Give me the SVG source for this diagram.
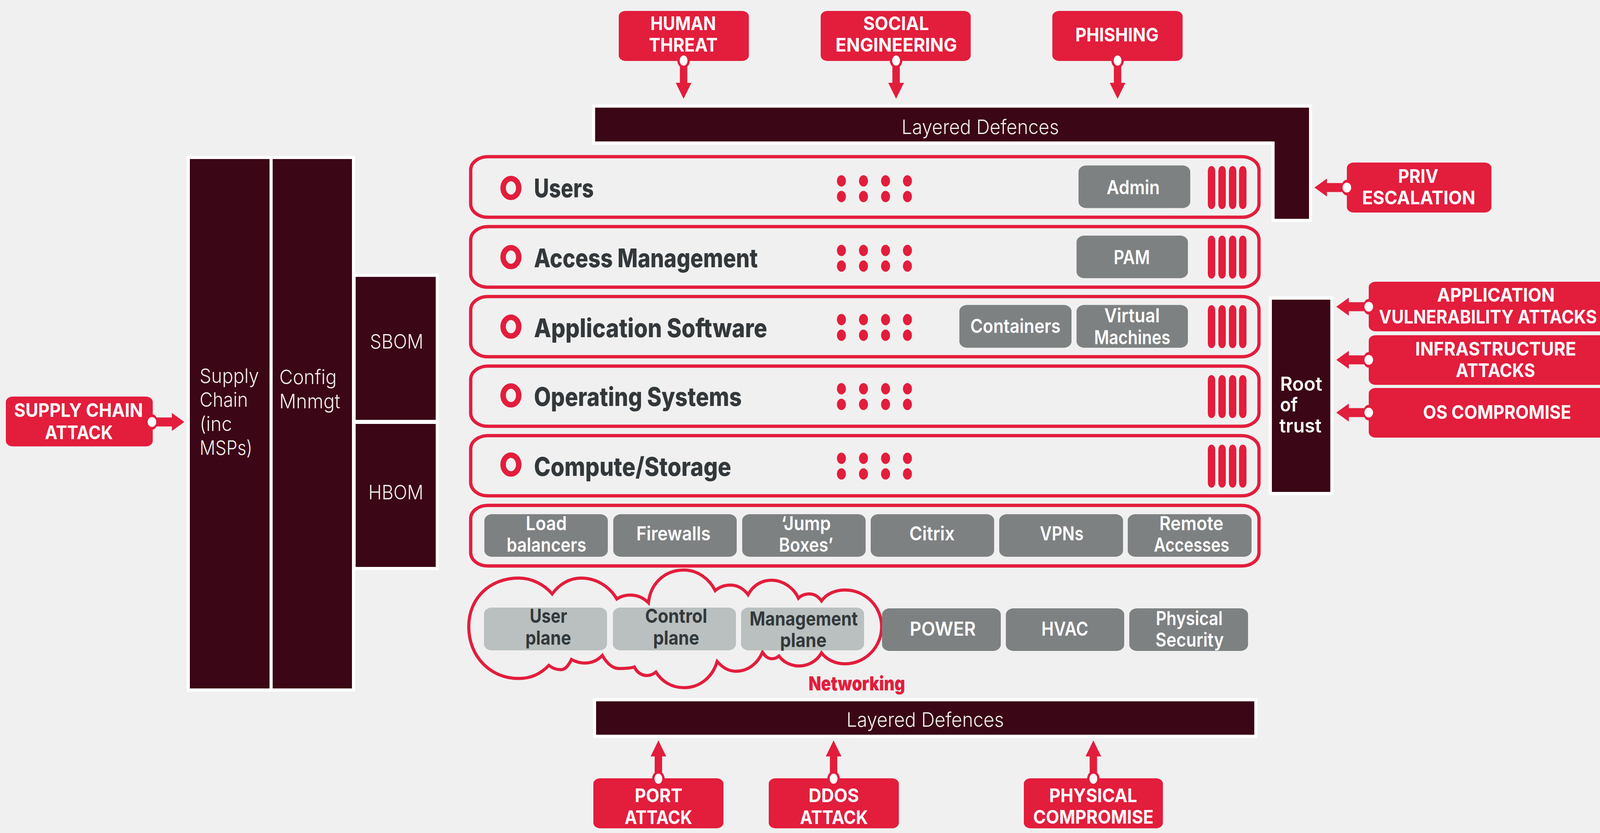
<svg xmlns="http://www.w3.org/2000/svg" xmlns:xlink="http://www.w3.org/1999/xlink" width="4148" height="2132" viewBox="0 0 4148 2132">
<style>
text{font-family:"Inter","Liberation Sans",sans-serif;}
.red{fill:#e31d3c;}
.panel{fill:#3b0615;stroke:#fff;stroke-width:8;}
.row{fill:none;stroke:#e31d3c;stroke-width:8.5;}
.grey{fill:#7e8182;}
.pale{fill:#b9c0bf;}
.lt{fill:#fff;font-size:48px;font-weight:700;}
.gt{fill:#fff;font-size:49px;font-weight:600;}
.dk{fill:#33383b;font-size:49px;font-weight:700;}
.pt{fill:#f2eeee;font-size:51px;font-weight:300;}
.title{fill:#33383b;font-size:66px;font-weight:800;}
.ring{fill:none;stroke:#e31d3c;stroke-width:14;}
</style>
<defs>
<g id="dots"><ellipse cx="0" cy="0" rx="11.5" ry="14.5"/><ellipse cx="0" cy="40" rx="11.5" ry="14.5"/><ellipse cx="56.5" cy="0" rx="11.5" ry="14.5"/><ellipse cx="56.5" cy="40" rx="11.5" ry="14.5"/><ellipse cx="113" cy="0" rx="11.5" ry="14.5"/><ellipse cx="113" cy="40" rx="11.5" ry="14.5"/><ellipse cx="169" cy="0" rx="11.5" ry="14.5"/><ellipse cx="169" cy="40" rx="11.5" ry="14.5"/></g>
<g id="bars"><rect x="0" y="0" width="19" height="110" rx="9.5" ry="12"/><rect x="27" y="0" width="19" height="110" rx="9.5" ry="12"/><rect x="54" y="0" width="19" height="110" rx="9.5" ry="12"/><rect x="80" y="0" width="19" height="110" rx="9.5" ry="12"/></g>
<g id="arrow-v"><ellipse rx="16" ry="19" class="red"/><path class="red" d="M-9.5,0H9.5V57H20L0,98L-20,57H-9.5Z"/><ellipse rx="10" ry="13" fill="#fff"/></g>
<g id="arrow-l"><ellipse rx="14" ry="20" class="red"/><path class="red" d="M0,-11.5V11.5H-51V23L-83,0L-51,-23V-11.5Z"/><ellipse rx="11" ry="12.6" fill="#fff"/></g>
</defs>
<rect width="4148" height="2132" fill="#f0f0f0"/>

<g id="layered-defences-top"><polygon class="panel" points="1519.5,271.5 3355,271.5 3355,564 3259,564 3259,366 1519.5,366"/><text class="pt" x="2308" y="343" textLength="403" lengthAdjust="spacingAndGlyphs">Layered Defences</text></g>
<g id="layered-defences-bottom"><rect class="panel" x="1522" y="1791" width="1693" height="93.5"/><text class="pt" x="2167" y="1860" textLength="403" lengthAdjust="spacingAndGlyphs">Layered Defences</text></g>
<g id="supply-chain"><rect class="panel" x="482" y="403" width="212" height="1363"/><text class="pt" x="511" y="980" textLength="152" lengthAdjust="spacingAndGlyphs">Supply</text><text class="pt" x="511" y="1041" textLength="124" lengthAdjust="spacingAndGlyphs">Chain</text><text class="pt" x="511" y="1103" textLength="83" lengthAdjust="spacingAndGlyphs">(inc</text><text class="pt" x="511" y="1164" textLength="135" lengthAdjust="spacingAndGlyphs">MSPs)</text></g>
<g id="config-mnmgt"><rect class="panel" x="694" y="403" width="211" height="1363"/><text class="pt" x="715" y="983" textLength="147" lengthAdjust="spacingAndGlyphs">Config</text><text class="pt" x="715" y="1045" textLength="156" lengthAdjust="spacingAndGlyphs">Mnmgt</text></g>
<g id="sbom"><rect class="panel" x="906.5" y="704.6" width="213" height="374"/><text class="pt" x="947" y="892" textLength="137" lengthAdjust="spacingAndGlyphs">SBOM</text></g>
<g id="hbom"><rect class="panel" x="906.5" y="1081" width="213" height="374"/><text class="pt" x="943" y="1278" textLength="141" lengthAdjust="spacingAndGlyphs">HBOM</text></g>
<g id="root-of-trust"><rect class="panel" x="3252" y="763" width="157.6" height="500"/><text class="gt" x="3277" y="1000" textLength="108" lengthAdjust="spacingAndGlyphs">Root</text><text class="gt" x="3277" y="1053" textLength="45" lengthAdjust="spacingAndGlyphs">of</text><text class="gt" x="3275" y="1107" textLength="108" lengthAdjust="spacingAndGlyphs">trust</text></g>

<g id="row-users"><rect class="row" x="1205" y="401" width="2018" height="155" rx="44" ry="34"/><ellipse class="ring" cx="1308" cy="481" rx="20" ry="24"/><text class="title" x="1367" y="505" textLength="153" lengthAdjust="spacingAndGlyphs">Users</text><use href="#dots" class="red" x="2154" y="463"/><use href="#bars" class="red" x="3092" y="425"/>
<rect class="grey" x="2761" y="423.5" width="286" height="109" rx="20" ry="16"/><text class="gt" x="2833" y="497" textLength="136" lengthAdjust="spacingAndGlyphs">Admin</text></g>
<g id="row-access"><rect class="row" x="1205" y="580" width="2018" height="155" rx="44" ry="34"/><ellipse class="ring" cx="1308" cy="658" rx="20" ry="24"/><text class="title" x="1367" y="684" textLength="573" lengthAdjust="spacingAndGlyphs">Access Management</text><use href="#dots" class="red" x="2154" y="641"/><use href="#bars" class="red" x="3092" y="603"/>
<rect class="grey" x="2756" y="603" width="285" height="109" rx="20" ry="16"/><text class="gt" x="2851" y="676" textLength="93" lengthAdjust="spacingAndGlyphs">PAM</text></g>
<g id="row-application"><rect class="row" x="1205" y="759" width="2018" height="154" rx="44" ry="34"/><ellipse class="ring" cx="1308" cy="836" rx="20" ry="24"/><text class="title" x="1367" y="863" textLength="597" lengthAdjust="spacingAndGlyphs">Application Software</text><use href="#dots" class="red" x="2154" y="818"/><use href="#bars" class="red" x="3092" y="781"/>
<rect class="grey" x="2456" y="780.5" width="287" height="109.5" rx="20" ry="16"/><text class="gt" x="2484" y="852" textLength="231" lengthAdjust="spacingAndGlyphs">Containers</text>
<rect class="grey" x="2756" y="780.5" width="285" height="109.5" rx="20" ry="16"/><text class="gt" x="2827" y="825" textLength="142" lengthAdjust="spacingAndGlyphs">Virtual</text><text class="gt" x="2801" y="881" textLength="195" lengthAdjust="spacingAndGlyphs">Machines</text></g>
<g id="row-os"><rect class="row" x="1205" y="937" width="2018" height="154" rx="44" ry="34"/><ellipse class="ring" cx="1308" cy="1012" rx="20" ry="24"/><text class="title" x="1367" y="1039" textLength="532" lengthAdjust="spacingAndGlyphs">Operating Systems</text><use href="#dots" class="red" x="2154" y="995"/><use href="#bars" class="red" x="3092" y="960"/></g>
<g id="row-compute"><rect class="row" x="1205" y="1115" width="2018" height="154" rx="44" ry="34"/><ellipse class="ring" cx="1308" cy="1189" rx="20" ry="24"/><text class="title" x="1367" y="1218" textLength="505" lengthAdjust="spacingAndGlyphs">Compute/Storage</text><use href="#dots" class="red" x="2154" y="1173"/><use href="#bars" class="red" x="3092" y="1138"/></g>

<g id="row-perimeter"><rect class="row" x="1205" y="1293.5" width="2018" height="155" rx="44" ry="34"/>
<rect class="grey" x="1240" y="1316" width="316" height="109" rx="20" ry="16"/><text class="gt" x="1346" y="1357" textLength="105" lengthAdjust="spacingAndGlyphs">Load</text><text class="gt" x="1297" y="1412" textLength="204" lengthAdjust="spacingAndGlyphs">balancers</text>
<rect class="grey" x="1570" y="1316" width="316" height="109" rx="20" ry="16"/><text class="gt" x="1629" y="1383" textLength="190" lengthAdjust="spacingAndGlyphs">Firewalls</text>
<rect class="grey" x="1900" y="1316" width="316" height="109" rx="20" ry="16"/><text class="gt" x="2000" y="1357" textLength="127" lengthAdjust="spacingAndGlyphs">‘Jump</text><text class="gt" x="1994" y="1412" textLength="139" lengthAdjust="spacingAndGlyphs">Boxes’</text>
<rect class="grey" x="2229" y="1316" width="316" height="109" rx="20" ry="16"/><text class="gt" x="2328" y="1383" textLength="116" lengthAdjust="spacingAndGlyphs">Citrix</text>
<rect class="grey" x="2558" y="1316" width="317" height="109" rx="20" ry="16"/><text class="gt" x="2662" y="1383" textLength="112" lengthAdjust="spacingAndGlyphs">VPNs</text>
<rect class="grey" x="2887" y="1316" width="317" height="109" rx="20" ry="16"/><text class="gt" x="2968" y="1357" textLength="164" lengthAdjust="spacingAndGlyphs">Remote</text><text class="gt" x="2954" y="1412" textLength="193" lengthAdjust="spacingAndGlyphs">Accesses</text></g>

<g id="networking"><path fill="none" stroke="#e31d3c" stroke-width="8" stroke-linejoin="miter" d="M1200,1604C1200,1530 1255,1479.5 1328,1479.5C1360,1479.5 1392,1495 1413.6,1520C1432,1495 1458,1479.5 1488,1479.5C1525,1479.5 1560,1500 1579,1533C1588,1527 1600,1523 1614,1523C1632,1523 1648,1531 1660,1542.5C1665,1495 1700,1459 1751,1459C1785,1459 1815,1480 1831,1511.6C1842,1502 1855,1497.5 1870,1497.5C1888,1497.5 1904,1507 1915,1522C1928,1498 1950,1485 1975,1485C2005,1485 2032,1505 2044,1531C2052,1523 2062,1520 2072,1520C2084,1520 2095,1527 2103,1538C2116,1520 2138,1510 2163,1510C2215,1510 2257,1552 2257,1604C2257,1656 2215,1699 2163,1699C2138,1699 2116,1688 2103,1671C2092,1691 2070,1704.5 2045,1704.5C2025,1704.5 2006,1695 1994,1679C1987,1685 1982,1686 1975,1686C1967,1686 1958,1680 1952,1669C1940,1698 1915,1718 1884,1718C1865,1718 1849,1708 1836,1693C1824,1733 1792,1760 1751,1760C1720,1760 1695,1745 1679,1720C1672,1726 1665,1729 1656,1729C1642,1729 1630,1720 1624,1707C1615,1710 1600,1711 1585,1711C1568,1711 1553,1697 1542,1677.5C1530,1690 1515,1697 1498,1697C1486,1697 1474,1694 1463,1688C1455,1704 1447,1714 1436,1714C1425,1714 1415,1711 1405,1703C1385,1724 1360,1736.6 1328,1736.6C1255,1736.6 1200,1680 1200,1604Z"/>
<rect class="pale" x="1239" y="1555" width="315" height="109.5" rx="20" ry="16"/><text class="dk" x="1356" y="1594" textLength="96" lengthAdjust="spacingAndGlyphs">User</text><text class="dk" x="1345" y="1650" textLength="117" lengthAdjust="spacingAndGlyphs">plane</text>
<rect class="pale" x="1569" y="1555" width="315" height="109.5" rx="20" ry="16"/><text class="dk" x="1651.5" y="1594" textLength="159" lengthAdjust="spacingAndGlyphs">Control</text><text class="dk" x="1672" y="1650" textLength="118" lengthAdjust="spacingAndGlyphs">plane</text>
<rect class="pale" x="1897" y="1555" width="315" height="109.5" rx="20" ry="16"/><text class="dk" x="1919" y="1601" textLength="277" lengthAdjust="spacingAndGlyphs">Management</text><text class="dk" x="1997" y="1656" textLength="119" lengthAdjust="spacingAndGlyphs">plane</text>
<text x="2070" y="1767" font-size="50" font-weight="900" class="red" textLength="247" lengthAdjust="spacingAndGlyphs">Networking</text></g>

<g id="power"><rect class="grey" x="2258" y="1557" width="304" height="109" rx="20" ry="16"/><text class="gt" x="2329" y="1627" textLength="169" lengthAdjust="spacingAndGlyphs">POWER</text></g>
<g id="hvac"><rect class="grey" x="2575" y="1557" width="303" height="109" rx="20" ry="16"/><text class="gt" x="2666" y="1627" textLength="120" lengthAdjust="spacingAndGlyphs">HVAC</text></g>
<g id="physical-security"><rect class="grey" x="2891" y="1557" width="304" height="109" rx="20" ry="16"/><text class="gt" x="2959" y="1600" textLength="171" lengthAdjust="spacingAndGlyphs">Physical</text><text class="gt" x="2958" y="1655" textLength="175" lengthAdjust="spacingAndGlyphs">Security</text></g>

<g id="human-threat"><rect class="red" x="1584" y="28" width="333" height="128" rx="18" ry="14"/><text class="lt" x="1665" y="77" textLength="168" lengthAdjust="spacingAndGlyphs">HUMAN</text><text class="lt" x="1661" y="132" textLength="176" lengthAdjust="spacingAndGlyphs">THREAT</text></g>
<g id="social-engineering"><rect class="red" x="2101" y="28" width="384" height="128" rx="18" ry="14"/><text class="lt" x="2210" y="77" textLength="168" lengthAdjust="spacingAndGlyphs">SOCIAL</text><text class="lt" x="2139" y="132" textLength="311" lengthAdjust="spacingAndGlyphs">ENGINEERING</text></g>
<g id="phishing"><rect class="red" x="2694" y="28" width="333.5" height="128" rx="18" ry="14"/><text class="lt" x="2753" y="106" textLength="213" lengthAdjust="spacingAndGlyphs">PHISHING</text></g>
<g id="priv-escalation"><rect class="red" x="3448" y="416" width="370" height="128" rx="18" ry="14"/><text class="lt" x="3579" y="468" textLength="103" lengthAdjust="spacingAndGlyphs">PRIV</text><text class="lt" x="3487" y="523" textLength="290" lengthAdjust="spacingAndGlyphs">ESCALATION</text></g>
<g id="application-attacks"><rect class="red" x="3504" y="721" width="643" height="127" rx="18" ry="14"/><text class="lt" x="3679" y="772" textLength="301" lengthAdjust="spacingAndGlyphs">APPLICATION</text><text class="lt" transform="translate(3530,828) scale(0.72,1)" textLength="775" lengthAdjust="spacingAndGlyphs">VULNERABILITY ATTACKS</text></g>
<g id="infrastructure-attacks"><rect class="red" x="3504" y="858" width="643" height="127" rx="18" ry="14"/><text class="lt" x="3623" y="910" textLength="412" lengthAdjust="spacingAndGlyphs">INFRASTRUCTURE</text><text class="lt" x="3727" y="965" textLength="203" lengthAdjust="spacingAndGlyphs">ATTACKS</text></g>
<g id="os-compromise"><rect class="red" x="3504" y="993" width="643" height="127" rx="18" ry="14"/><text class="lt" x="3643" y="1072" textLength="379" lengthAdjust="spacingAndGlyphs">OS COMPROMISE</text></g>
<g id="supply-chain-attack"><rect class="red" x="15" y="1015" width="376" height="127.5" rx="18" ry="14"/><text class="lt" x="36" y="1067" textLength="330" lengthAdjust="spacingAndGlyphs">SUPPLY CHAIN</text><text class="lt" x="115" y="1124" textLength="174" lengthAdjust="spacingAndGlyphs">ATTACK</text></g>
<g id="port-attack"><rect class="red" x="1519" y="1992" width="333" height="128" rx="18" ry="14"/><text class="lt" x="1625" y="2053" textLength="122" lengthAdjust="spacingAndGlyphs">PORT</text><text class="lt" x="1599" y="2109" textLength="173" lengthAdjust="spacingAndGlyphs">ATTACK</text></g>
<g id="ddos-attack"><rect class="red" x="1968" y="1992" width="333" height="128" rx="18" ry="14"/><text class="lt" x="2070" y="2053" textLength="129" lengthAdjust="spacingAndGlyphs">DDOS</text><text class="lt" x="2048" y="2109" textLength="174" lengthAdjust="spacingAndGlyphs">ATTACK</text></g>
<g id="physical-compromise"><rect class="red" x="2621" y="1992" width="356" height="128" rx="18" ry="14"/><text class="lt" x="2686" y="2053" textLength="225" lengthAdjust="spacingAndGlyphs">PHYSICAL</text><text class="lt" x="2645" y="2108" textLength="308" lengthAdjust="spacingAndGlyphs">COMPROMISE</text></g>

<g id="connectors">
<use href="#arrow-v" transform="translate(1750,155)"/>
<use href="#arrow-v" transform="translate(2294,155)"/>
<use href="#arrow-v" transform="translate(2861,155)"/>
<use href="#arrow-v" transform="translate(1685.5,1993) scale(1,-1)"/>
<use href="#arrow-v" transform="translate(2134,1993) scale(1,-1)"/>
<use href="#arrow-v" transform="translate(2799,1993) scale(1,-1)"/>
<use href="#arrow-l" transform="translate(3448,480)"/>
<use href="#arrow-l" transform="translate(3504,785)"/>
<use href="#arrow-l" transform="translate(3504,921)"/>
<use href="#arrow-l" transform="translate(3504,1056)"/>
<use href="#arrow-l" transform="translate(389,1080) scale(-1,1)"/>
</g>
</svg>
